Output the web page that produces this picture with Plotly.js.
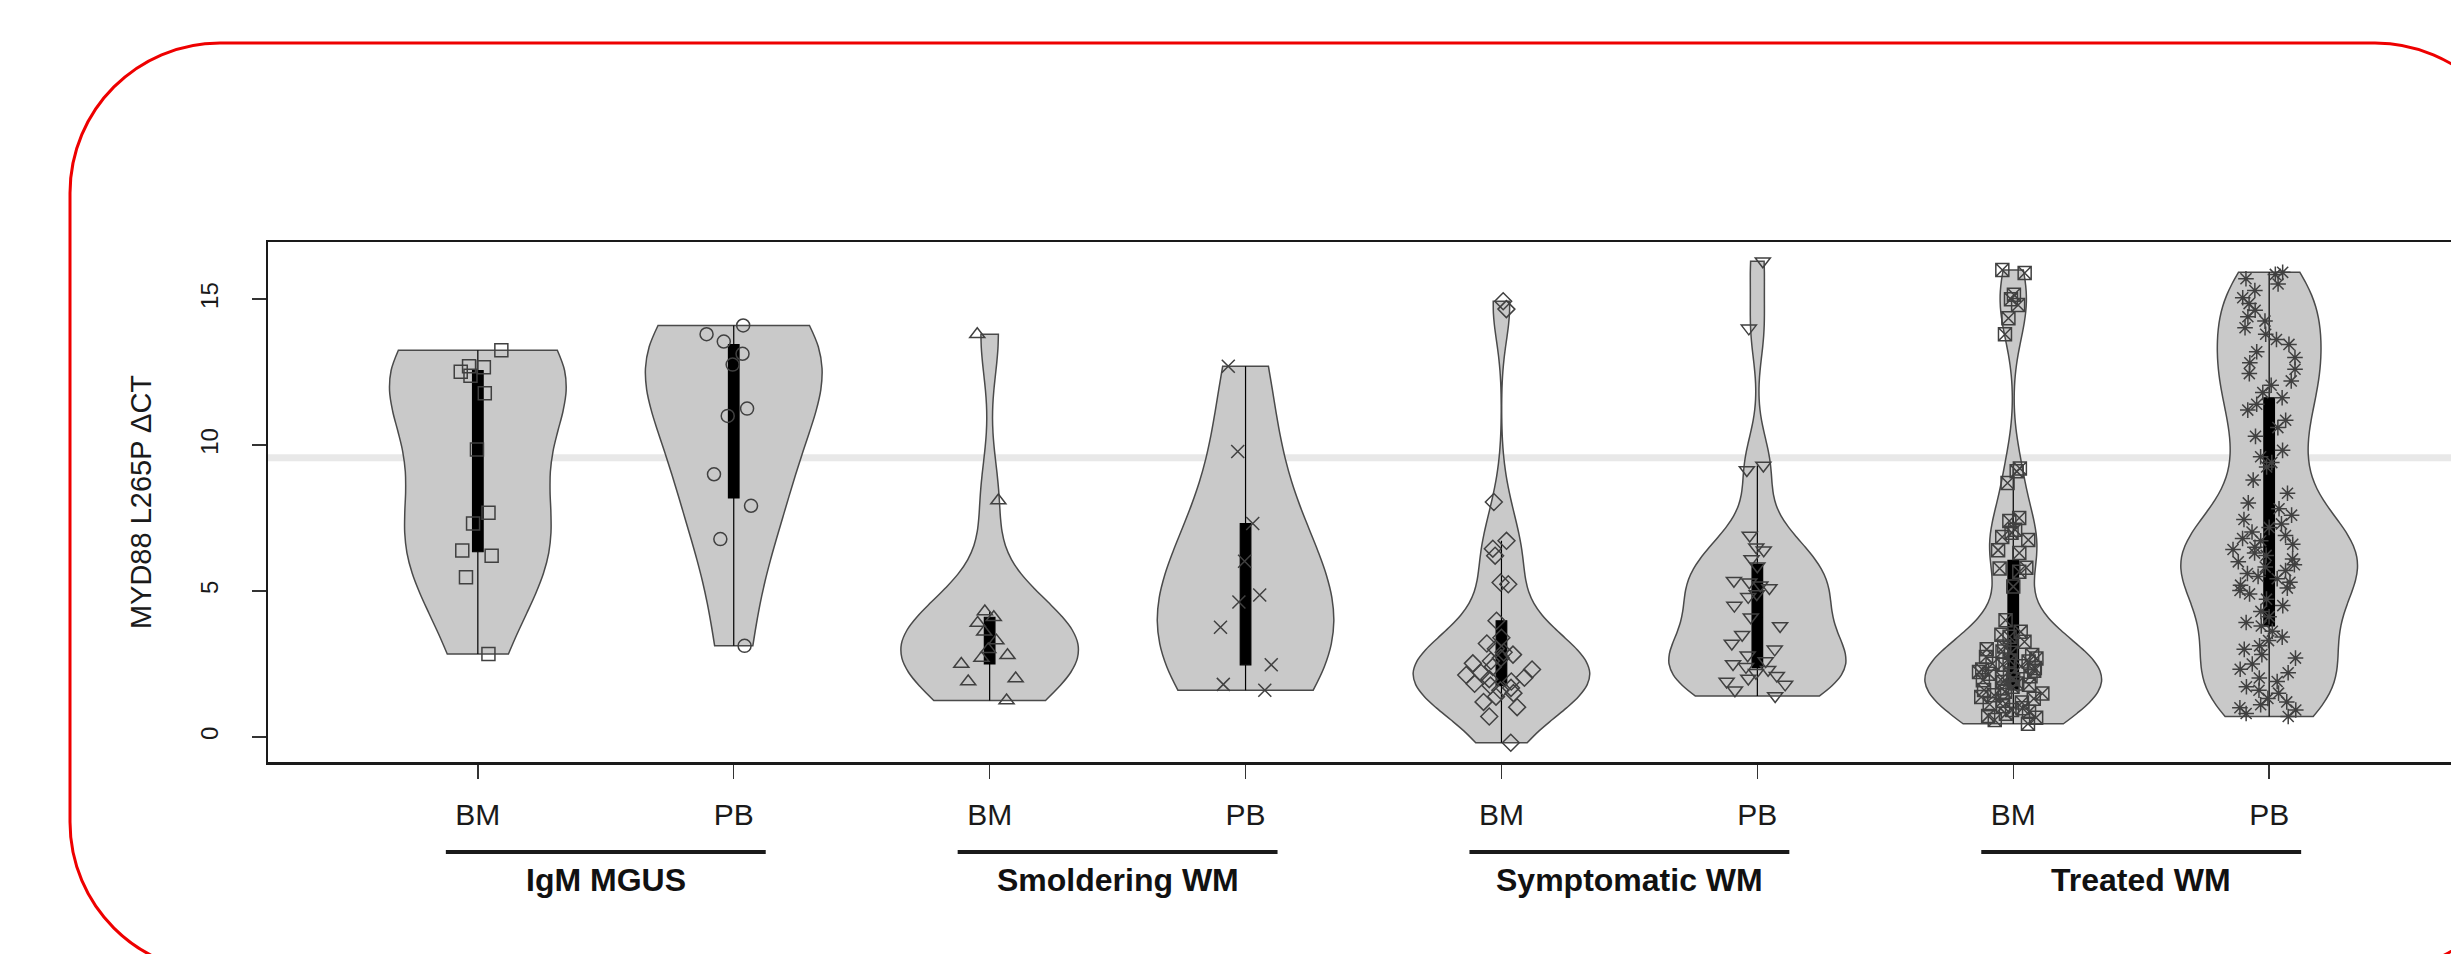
<!DOCTYPE html>
<html>
<head>
<meta charset="utf-8">
<script src="https://cdn.plot.ly/plotly-3.0.1.min.js"></script>
<style>
html,body{margin:0;padding:0;overflow:hidden;background:#fff;}
#chart{width:2600px;height:954px;}
</style>
</head>
<body>
<div id="chart"></div>
<script>
// ---------- data ----------
const groupNames = ['IgM MGUS', 'Smoldering WM', 'Symptomatic WM', 'Treated WM'];
const sampleTypes = ['BM', 'PB', 'BM', 'PB', 'BM', 'PB', 'BM', 'PB'];
const yTickValues = [0, 5, 10, 15];
const yAxisTitle = 'MYD88 L265P \u0394CT';

const igmMgusBM = [13.25, 12.7, 12.67, 12.51, 12.38, 11.78, 9.85, 7.68, 7.31, 6.39, 6.21, 5.47, 2.84];
const igmMgusPB = [14.1, 13.8, 13.55, 13.13, 12.76, 11.25, 11.0, 9.0, 7.92, 6.78, 3.12];
const smolderingBM = [13.8, 8.1, 4.3, 4.1, 3.9, 3.6, 3.3, 3.0, 2.8, 2.7, 2.5, 2.0, 1.9, 1.25];
const smolderingPB = [12.7, 9.78, 7.31, 6.02, 4.86, 4.62, 3.76, 2.47, 1.8, 1.6];
const symptomaticBM = [14.93, 14.66, 8.05, 6.72, 6.45, 6.21, 5.29, 5.23, 3.98, 3.4, 3.2, 3.02, 2.9, 2.82, 2.7,
  2.6, 2.52, 2.4, 2.31, 2.2, 2.12, 2.03, 1.98, 1.9, 1.82, 1.76, 1.68, 1.6, 1.5, 1.38, 1.2, 1.02, 0.7, -0.2];
const symptomaticPB = [16.3, 14.0, 9.3, 9.15, 6.9, 6.5, 6.4, 6.1, 5.85, 5.35, 5.3, 5.2, 5.1, 4.9, 4.8, 4.5, 4.1,
  3.8, 3.5, 3.2, 3.0, 2.8, 2.6, 2.5, 2.4, 2.3, 2.2, 2.1, 2.0, 1.9, 1.8, 1.6, 1.4];
const treatedBM = [16.0, 15.9, 15.15, 15.0, 14.8, 14.35, 13.8, 9.2, 9.1, 8.7, 7.5, 7.4, 7.1, 7.0, 6.85, 6.75,
  6.4, 6.3, 5.8, 5.77, 5.66, 5.15, 4.0, 3.6, 3.5, 3.43, 3.26, 3.1, 3.0,
  2.93, 2.88, 2.81, 2.74, 2.69, 2.62, 2.58, 2.51, 2.47, 2.42, 2.36, 2.31, 2.27, 2.22, 2.16, 2.12, 2.08,
  2.03, 1.98, 1.94, 1.88, 1.83, 1.79, 1.72, 1.66, 1.61, 1.55, 1.49, 1.43, 1.37, 1.31, 1.24, 1.18, 1.12,
  1.05, 0.98, 0.92, 0.86, 0.79, 0.72, 0.66, 0.58, 0.45];
const treatedPB = [15.92, 15.85, 15.7, 15.52, 15.3, 15.05, 14.85, 14.62, 14.4, 14.25, 14.02, 13.8, 13.62,
  13.45, 13.2, 13.0, 12.82, 12.6, 12.45, 12.2, 12.05, 11.8, 11.62, 11.4,
  11.2, 10.85, 10.6, 10.3, 9.82, 9.6, 9.4, 9.25, 8.8, 8.35, 8.02,
  7.82, 7.6, 7.45, 7.3, 7.18, 7.02, 6.9, 6.8, 6.72, 6.6, 6.5, 6.42, 6.3, 6.22, 6.1, 6.0, 5.9, 5.82, 5.7,
  5.6, 5.5, 5.42, 5.3, 5.2, 5.1, 5.02,
  4.9, 4.72, 4.5, 4.3, 4.12, 3.92, 3.8,
  3.62, 3.42, 3.3, 3.12, 3.0, 2.82, 2.7, 2.5, 2.32, 2.2, 2.02, 1.9, 1.72, 1.6, 1.5, 1.32, 1.2, 1.1,
  1.0, 0.92, 0.8, 0.7];

const seriesValues = [igmMgusBM, igmMgusPB, smolderingBM, smolderingPB, symptomaticBM, symptomaticPB, treatedBM, treatedPB];

// ---------- styles ----------
const markerSymbols = ['square-open', 'circle-open', 'triangle-up-open', 'x-thin-open',
  'diamond-open', 'triangle-down-open', 'square-x-open', 'asterisk-open'];
const bandwidths = [null, null, 1.5, null, 1.2, 1.1, 1.1, 1.2];

// plot area geometry (px)
const PL = 268, PT = 242, PW = 2211, PH = 520;
const FIG_W = 2600, FIG_H = 954;

const traces = seriesValues.map((vals, i) => {
  const t = {
    type: 'violin',
    x0: i + 1,
    y: vals,
    name: groupNames[Math.floor(i / 2)] + ' ' + sampleTypes[i],
    width: 0.69,
    spanmode: 'hard',
    scalemode: 'width',
    fillcolor: '#c9c9c9',
    line: {color: '#4a4a4a', width: 1.5},
    points: 'all',
    pointpos: 0,
    jitter: 0.42,
    marker: {symbol: markerSymbols[i], size: 13, color: '#404040', line: {color: '#404040', width: 1.5}},
    box: {visible: true, width: 0.06, fillcolor: '#000000', line: {color: '#000000', width: 1.2}},
    meanline: {visible: false},
    showlegend: false,
    hoverinfo: 'y'
  };
  if (bandwidths[i]) t.bandwidth = bandwidths[i];
  return t;
});

// helpers for pixel -> paper conversion (decorations)
const px = x => (x - PL) / PW;
const py = y => (PT + PH - y) / PH;

function roundRectPath(x0, y0, x1, y1, r) {
  const k = 0.5523 * r;
  const P = (x, y) => px(x).toFixed(5) + ',' + py(y).toFixed(5);
  return 'M' + P(x0 + r, y0) + ' L' + P(x1 - r, y0) +
    ' C' + P(x1 - r + k, y0) + ' ' + P(x1, y0 + r - k) + ' ' + P(x1, y0 + r) +
    ' L' + P(x1, y1 - r) +
    ' C' + P(x1, y1 - r + k) + ' ' + P(x1 - r + k, y1) + ' ' + P(x1 - r, y1) +
    ' L' + P(x0 + r, y1) +
    ' C' + P(x0 + r - k, y1) + ' ' + P(x0, y1 - r + k) + ' ' + P(x0, y1 - r) +
    ' L' + P(x0, y0 + r) +
    ' C' + P(x0, y0 + r - k) + ' ' + P(x0 + r - k, y0) + ' ' + P(x0 + r, y0) + ' Z';
}

const shapes = [
  {type: 'line', xref: 'paper', yref: 'y', x0: 0, x1: 1, y0: 9.57, y1: 9.57,
   line: {color: '#e8e8e8', width: 7}, layer: 'below'},
  {type: 'path', xref: 'paper', yref: 'paper', path: roundRectPath(70, 43, 2525, 972, 150),
   line: {color: '#ee0000', width: 3}, fillcolor: 'rgba(0,0,0,0)', layer: 'above'}
];
const annotations = [];
groupNames.forEach((g, gi) => {
  const a = 2 * gi + 1, b = 2 * gi + 2;
  shapes.push({type: 'line', xref: 'x', yref: 'paper', x0: a - 0.125, x1: b + 0.125,
    y0: py(852), y1: py(852), line: {color: '#1a1a1a', width: 4}});
  annotations.push({xref: 'x', yref: 'paper', x: (a + b) / 2, y: py(880), yanchor: 'middle',
    xanchor: 'center', showarrow: false, text: g,
    font: {size: 32, weight: 'bold', color: '#111111'}});
});

const layout = {
  width: FIG_W, height: FIG_H,
  margin: {l: PL, r: FIG_W - PL - PW, t: PT, b: FIG_H - PT - PH, pad: 0},
  paper_bgcolor: '#ffffff', plot_bgcolor: '#ffffff',
  violinmode: 'overlay',
  showlegend: false,
  font: {family: 'Liberation Sans, Arial, sans-serif', color: '#1a1a1a'},
  xaxis: {
    range: [0.18, 8.82], tickmode: 'array', tickvals: sampleTypes.map((s, i) => i + 1), ticktext: sampleTypes,
    ticks: 'outside', ticklen: 14, tickwidth: 1.5, tickcolor: '#333333',
    showline: true, mirror: true, linecolor: '#1a1a1a', linewidth: 2.5,
    showgrid: false, zeroline: false, tickfont: {size: 30}, ticklabelstandoff: 10, fixedrange: true
  },
  yaxis: {
    range: [-0.86, 16.96], tickmode: 'array', tickvals: yTickValues, ticktext: yTickValues.map(String),
    ticks: 'outside', ticklen: 14, tickwidth: 1.5, tickcolor: '#333333', tickangle: -90,
    showline: true, mirror: true, linecolor: '#1a1a1a', linewidth: 2.5,
    showgrid: false, zeroline: false, tickfont: {size: 24}, ticklabelstandoff: 24,
    title: {text: yAxisTitle, font: {size: 29}, standoff: 36}, automargin: false, fixedrange: true
  },
  shapes: shapes,
  annotations: annotations
};

Plotly.newPlot('chart', traces, layout, {displayModeBar: false, staticPlot: true});
</script>
</body>
</html>
